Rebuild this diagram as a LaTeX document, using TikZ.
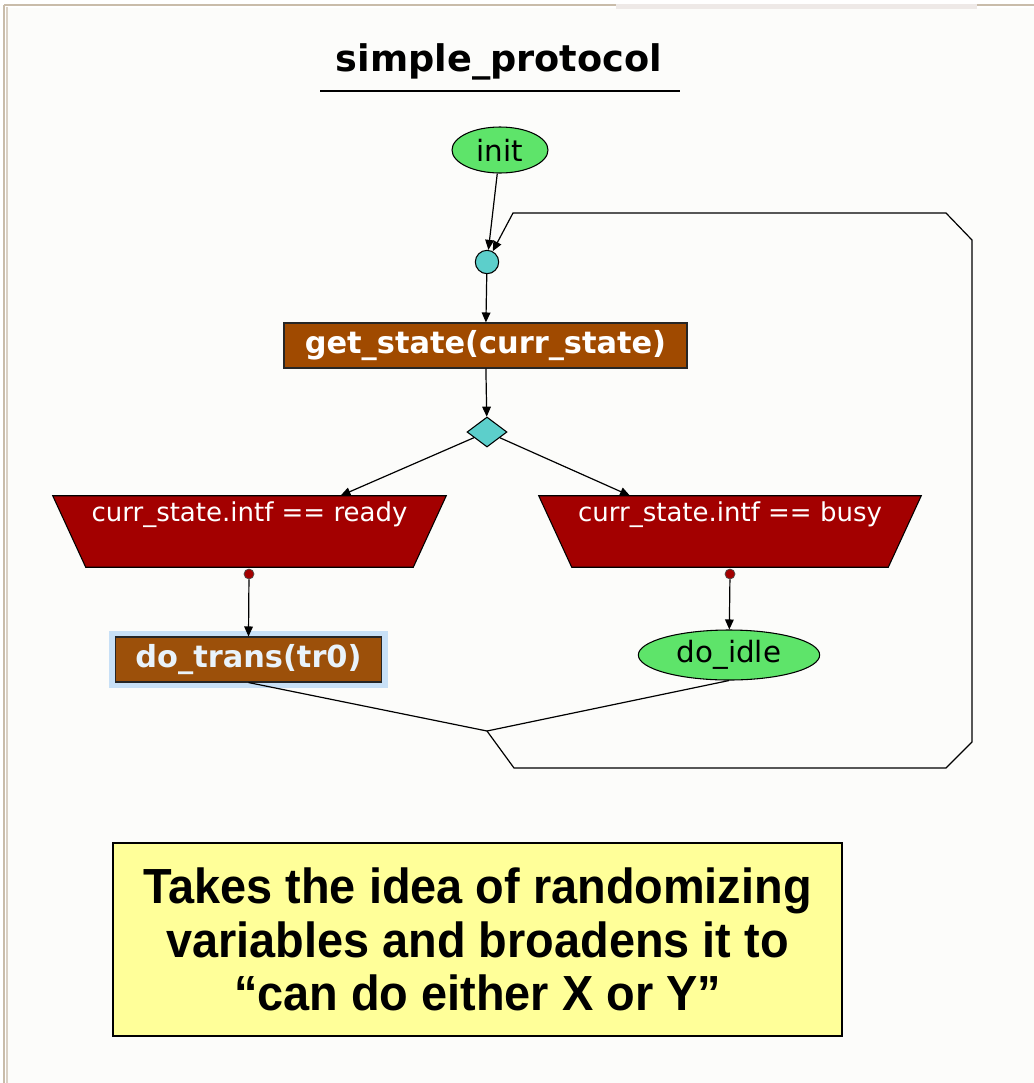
\documentclass[tikz,border=0pt]{standalone}
\usepackage{fontspec}
\setmainfont{DejaVu Sans}
\newfontfamily\notefont[FakeStretch=0.95]{Liberation Sans}
\usetikzlibrary{shapes.geometric,arrows.meta,calc}
\definecolor{pagebg}{HTML}{FCFCFA}
\definecolor{frametan}{HTML}{C9BCAA}
\definecolor{framelight}{HTML}{EEE9E7}
\definecolor{brn}{HTML}{A04A00}
\definecolor{brn2}{HTML}{9C500A}
\definecolor{hlblue}{HTML}{C8E0F6}
\definecolor{grn}{HTML}{5EE46A}
\definecolor{cyn}{HTML}{5CCFCB}
\definecolor{gred}{HTML}{A30000}
\definecolor{notey}{HTML}{FFFF99}
\tikzset{
  tit/.style={font=\bfseries\fontsize{27.5}{33}\selectfont, inner sep=0},
  actbox/.style={rectangle, draw=black!85, fill=brn, text=white, line width=0.8pt,
    font=\bfseries\fontsize{22.8}{27}\selectfont, inner sep=0},
  term/.style={ellipse, draw=black, fill=grn, line width=0.8pt,
    font=\fontsize{22}{26}\selectfont, inner sep=0},
  conn/.style={circle, draw=black, fill=cyn, line width=0.8pt, inner sep=0, minimum size=17.5pt},
  dec/.style={diamond, draw=black, fill=cyn, line width=0.8pt, inner sep=0,
    minimum width=30pt, minimum height=22.5pt},
  guardbb/.style={rectangle, inner sep=0, minimum height=53.25pt},
  guardfill/.style={draw=black, fill=gred, line width=0.8pt, line join=miter},
  gtext/.style={text=white, font=\fontsize{19.5}{23}\selectfont, inner sep=0},
  gdot/.style={circle, draw=black!70, fill=gred, line width=0.5pt, inner sep=0, minimum size=7.5pt},
  arr/.style={-{Triangle[length=7.5pt,width=6.5pt]}, line width=0.9pt},
  ln/.style={line width=0.9pt},
  notebox/.style={rectangle, draw=black, fill=notey, line width=1.1pt,
    minimum width=546.75pt, minimum height=144.75pt, align=center,
    font=\notefont\bfseries\fontsize{37}{40}\selectfont}
}
\begin{document}
\begin{tikzpicture}[x=0.75pt,y=-0.75pt]
\useasboundingbox (0,0) rectangle (1034,1083);
% page frame
\fill[white] (0,0) rectangle (1034,1083);
\fill[pagebg] (8,8) rectangle (1034,1083);
\fill[framelight] (616,4) rectangle (977,9);
\draw[frametan, line width=1.6pt] (4,5) -- (616,5);
\draw[frametan, line width=1.6pt] (977,5) -- (1034,5);
\draw[frametan, line width=1.2pt] (4,5) -- (4,1083);
\draw[frametan!70, line width=1.2pt] (7,7) -- (7,1083);

% title
\node[tit] (title) at (499,62) {simple\_protocol};
\draw[line width=1.3pt] (320,91) -- (680,91);

% nodes
\node[term, minimum width=72pt, minimum height=34.5pt] (init) at (500,150) {init};
\node[conn] (cyc) at (487,262) {};
\node[actbox, minimum width=302.25pt, minimum height=33.75pt] (gs) at (485.5,345.5) {get\_state(curr\_state)};
\node[dec] (dia) at (487,432) {};
\node[guardbb, minimum width=294.75pt] (rdy) at (249.5,531.5) {};
\fill[guardfill] (rdy.north west) -- (rdy.north east) -- ($(rdy.south east)+(-33,0)$)
  -- ($(rdy.south west)+(33,0)$) -- cycle;
\node[gtext] (rdytxt) at (249.5,515) {curr\_state.intf == ready};
\node[guardbb, minimum width=286.5pt] (bsy) at (730,531.5) {};
\fill[guardfill] (bsy.north west) -- (bsy.north east) -- ($(bsy.south east)+(-33,0)$)
  -- ($(bsy.south west)+(33,0)$) -- cycle;
\node[gtext] (bsytxt) at (730,515) {curr\_state.intf == busy};
\node[gdot] (rdot) at (249,574) {};
\node[gdot] (bdot) at (730,574) {};
\node[actbox, fill=brn2, text=hlblue!40, minimum width=200pt, minimum height=33.75pt,
  preaction={draw=hlblue, line width=9pt}] (dt) at (248.5,659.5) {do\_trans(tr0)};
\node[term, minimum width=136pt, minimum height=37.5pt] (di) at (729,655) {do\_idle};
\coordinate (jn) at (487,731);
\coordinate (lp1) at (514,768);
\coordinate (lp2) at (946,768);
\coordinate (lp3) at (972,742);
\coordinate (lp4) at (972,240);
\coordinate (lp5) at (946,213);
\coordinate (lp6) at (513,213);

% connectors
\draw[arr] (init) -- (cyc);
\draw[arr] (cyc) -- (gs);
\draw[arr] (gs) -- (dia);
\draw[arr] (dia) -- ($(rdy.north)+(91,0)$);
\draw[arr] (dia) -- ($(bsy.north)+(-100,0)$);
\draw[arr] (rdot) -- (dt.north);
\draw[arr] (bdot) -- (di);
\draw[ln] (dt.south) -- (jn);
\draw[ln] (di.south) -- (jn);
\draw[arr] (jn) -- (lp1) -- (lp2) -- (lp3) -- (lp4) -- (lp5) -- (lp6) -- (cyc);

% note
\node[notebox] (note) at (477.5,939.5) {Takes the idea of randomizing\\variables and broadens it to\\“can do either X or Y”};
\end{tikzpicture}
\end{document}
